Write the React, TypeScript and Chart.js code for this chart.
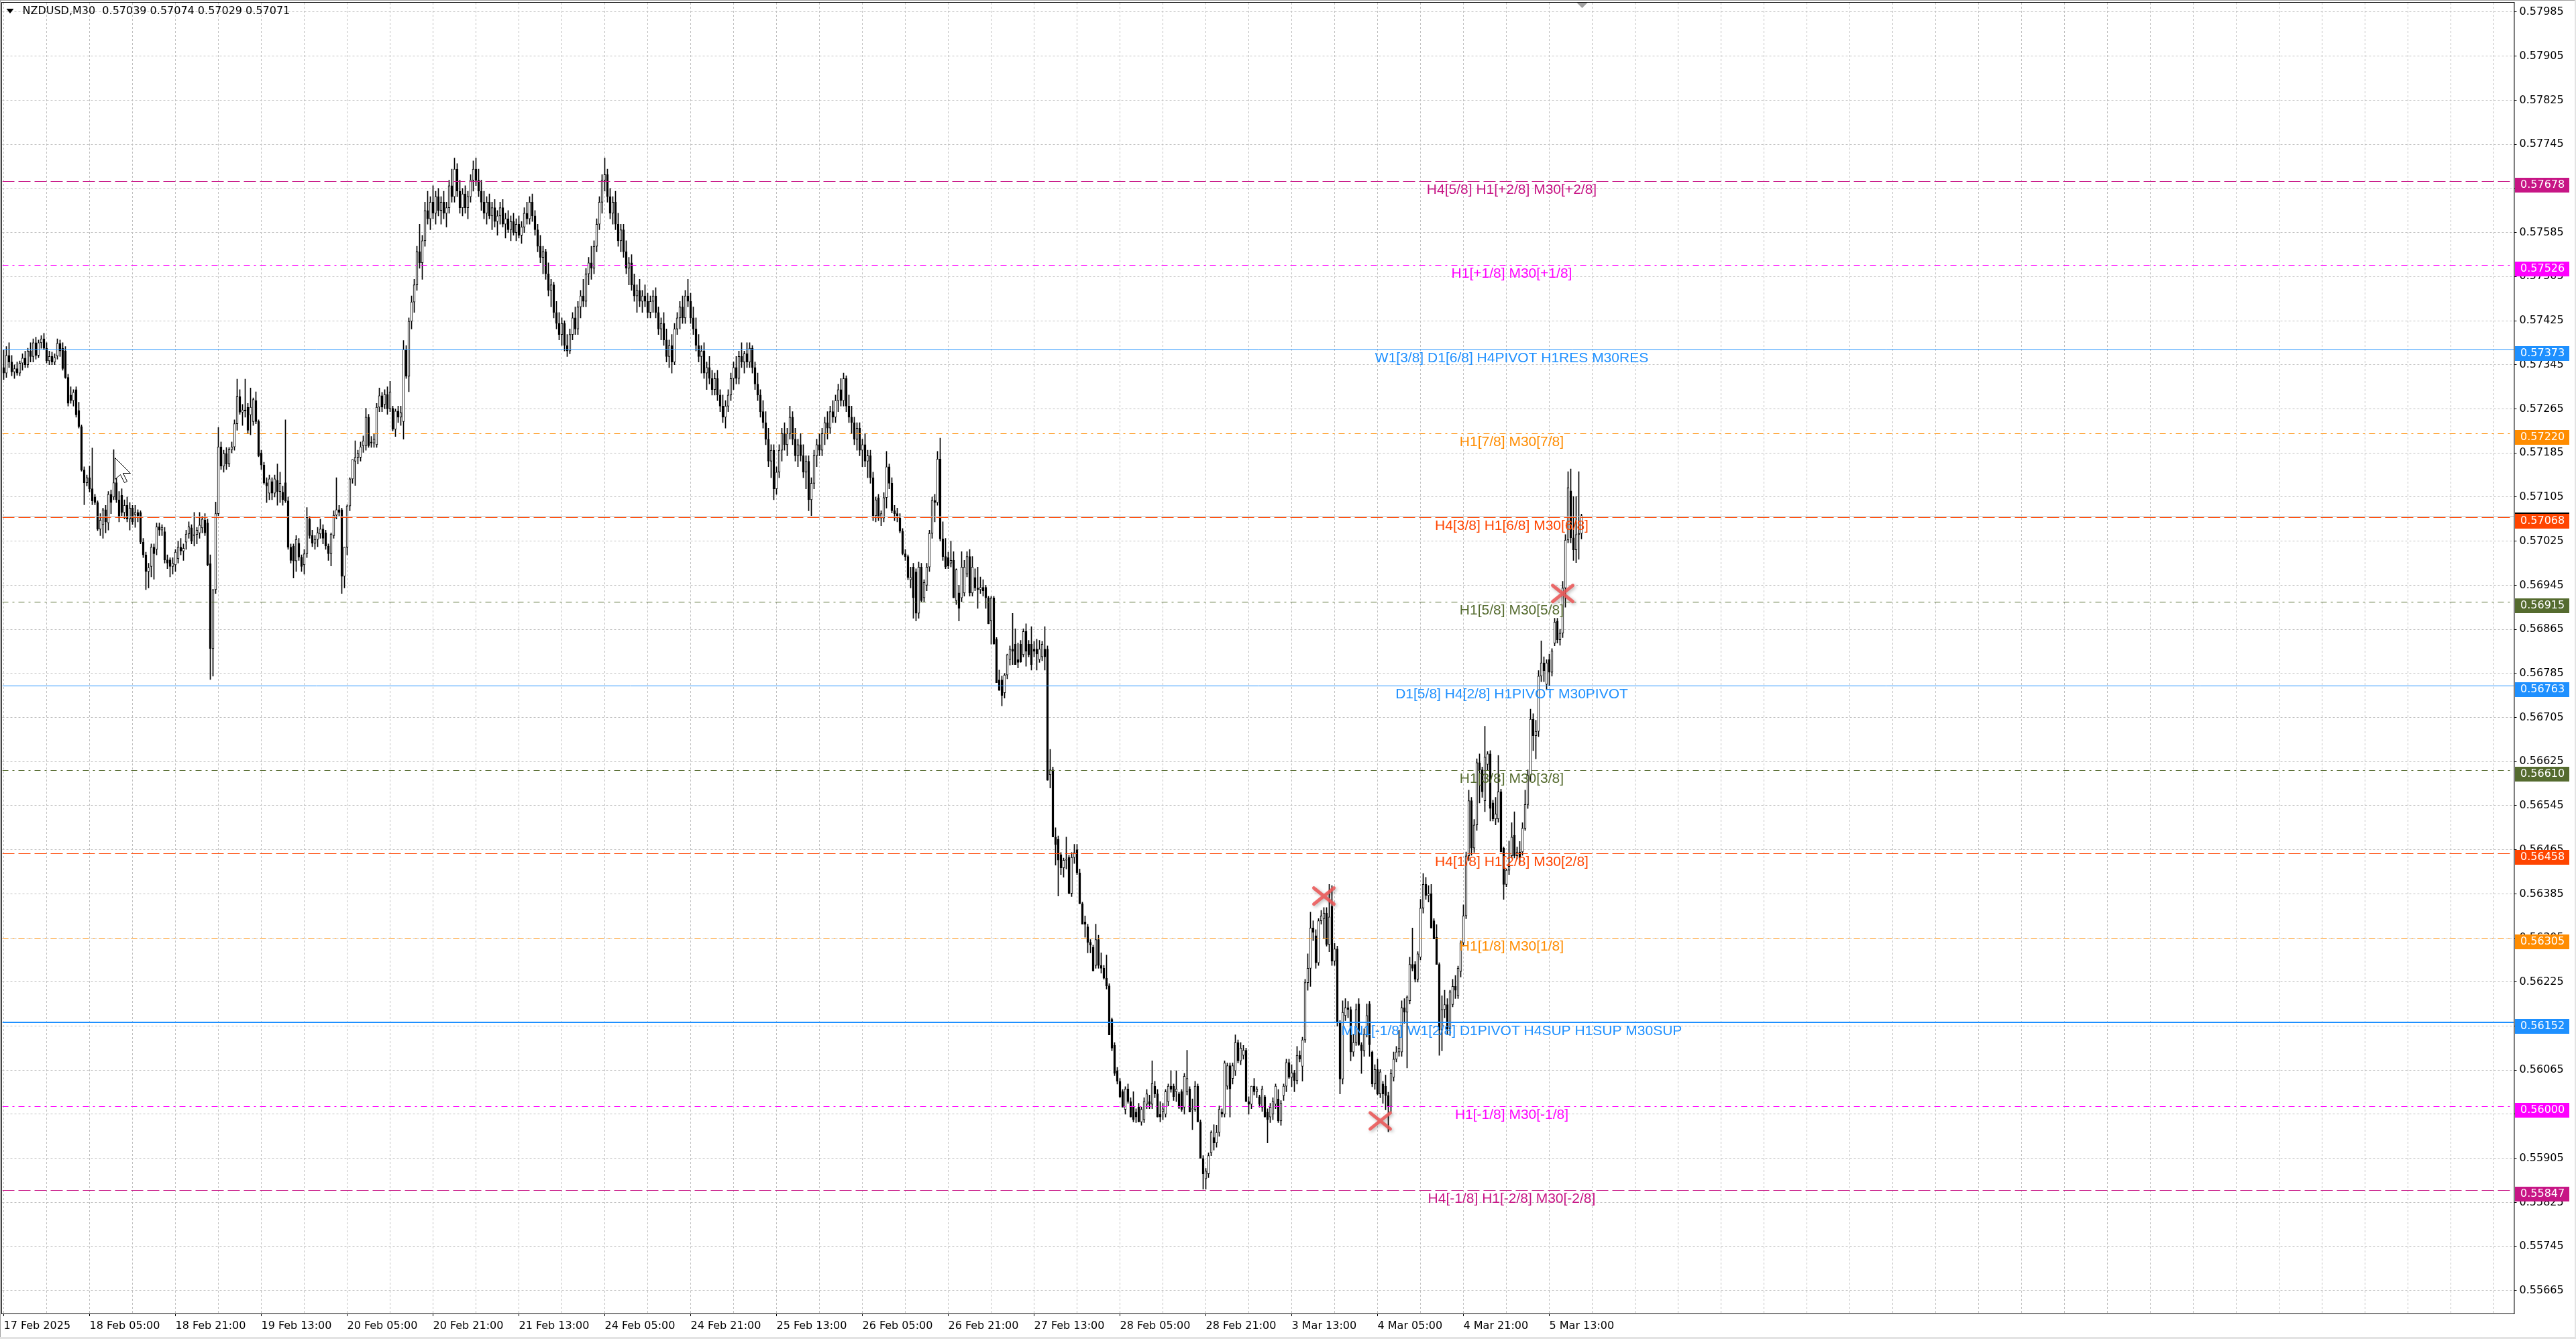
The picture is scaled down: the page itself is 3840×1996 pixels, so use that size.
import React, { useEffect, useRef } from 'react';
import { Chart, registerables } from 'chart.js';

Chart.register(...registerables);

// ---------- text ----------
const chartTitle = 'NZDUSD,M30  0.57039 0.57074 0.57029 0.57071';
const timeLabels = ['17 Feb 2025', '18 Feb 05:00', '18 Feb 21:00', '19 Feb 13:00', '20 Feb 05:00', '20 Feb 21:00', '21 Feb 13:00', '24 Feb 05:00', '24 Feb 21:00', '25 Feb 13:00', '26 Feb 05:00', '26 Feb 21:00', '27 Feb 13:00', '28 Feb 05:00', '28 Feb 21:00', '3 Mar 13:00', '4 Mar 05:00', '4 Mar 21:00', '5 Mar 13:00'];
const barsPerTimeLabel = 32;
const barsPerGridLine = 16;
const slotCount = 936;

const priceTicks = [0.55665, 0.55745, 0.55825, 0.55905, 0.55985, 0.56065, 0.56145, 0.56225, 0.56305, 0.56385, 0.56465, 0.56545, 0.56625, 0.56705, 0.56785, 0.56865, 0.56945, 0.57025, 0.57105, 0.57185, 0.57265, 0.57345, 0.57425, 0.57505, 0.57585, 0.57665, 0.57745, 0.57825, 0.57905, 0.57985];
const yMax = 0.5800204;
const yMin = 0.5562346;

// ---------- OHLC (price x 100000), M30 bars from 17 Feb 13:00 ----------
const opens = [
57340,57330,57362,57350,57332,57338,57330,57348,57357,57345,
57370,57360,57385,57362,57385,57392,57375,57352,57360,57350,
57361,57384,57375,57370,57322,57290,57280,57300,57262,57233,
57154,57131,57140,57120,57105,57095,57047,57055,57082,57058,
57110,57105,57131,57100,57108,57077,57090,57065,57085,57073,
57077,57077,57023,57000,56970,56979,57014,57010,57051,57045,
57042,56991,56991,56979,56982,56993,57014,57007,57023,57038,
57049,57035,57037,57040,57049,57063,57058,56984,56830,56937,
57075,57196,57161,57184,57165,57191,57196,57238,57287,57259,
57263,57268,57254,57242,57280,57242,57185,57163,57131,57112,
57133,57112,57135,57115,57114,57131,57098,57014,57016,56989,
57021,56996,56982,57002,57065,57035,57021,57028,57038,57047,
57040,57016,57002,57035,57072,57082,57082,56961,57014,57089,
57138,57170,57177,57177,57198,57198,57250,57205,57203,57200,
57268,57289,57273,57291,57265,57266,57228,57261,57250,57242,
57373,57324,57424,57459,57490,57550,57530,57570,57625,57610,
57640,57620,57650,57625,57640,57620,57630,57670,57650,57700,
57660,57630,57655,57630,57650,57680,57700,57680,57660,57640,
57620,57640,57615,57630,57605,57615,57630,57600,57610,57590,
57605,57585,57600,57580,57595,57620,57610,57640,57615,57590,
57560,57540,57550,57510,57480,57490,57440,57420,57400,57420,
57380,57370,57400,57430,57410,57450,57470,57460,57510,57530,
57520,57560,57600,57640,57680,57690,57650,57620,57640,57600,
57570,57590,57550,57520,57530,57490,57470,57480,57460,57470,
57460,57440,57460,57470,57440,57410,57420,57390,57360,57380,
57350,57410,57430,57450,57430,57470,57460,57430,57410,57380,
57360,57370,57330,57340,57320,57300,57320,57290,57270,57250,
57270,57290,57320,57340,57320,57360,57350,57365,57350,57375,
57340,57310,57290,57260,57240,57210,57170,57190,57120,57150,
57190,57220,57200,57220,57250,57210,57180,57200,57180,57150,
57170,57100,57130,57180,57200,57190,57220,57240,57230,57260,
57250,57280,57300,57280,57320,57270,57250,57240,57210,57230,
57190,57200,57170,57180,57140,57071,57104,57067,57067,57104,
57160,57130,57080,57075,57067,57043,57002,56997,56955,56978,
56969,56894,56978,56922,56945,56978,57039,57099,57095,57174,
57029,56997,56995,56985,56990,56917,56931,56922,56931,56965,
56997,56931,56959,56940,56937,56941,56941,56922,56880,56922,
56847,56773,56773,56750,56782,56810,56829,56838,56810,56838,
56819,56861,56838,56838,56829,56829,56810,56815,56829,56829,
56601,56610,56488,56484,56456,56432,56446,56451,56386,56451,
56465,56423,56367,56334,56325,56297,56288,56255,56302,56255,
56250,56232,56218,56157,56110,56064,56045,56026,55994,56031,
56008,55998,55989,55998,55971,55975,56003,56008,56003,56036,
56022,55985,55990,55985,56008,56036,56036,56026,56022,56026,
55998,56026,56031,55994,55994,56036,55971,55905,55868,55877,
55915,55943,55933,55952,55989,55985,56036,56073,56050,56064,
56115,56082,56092,56101,56008,56003,56036,56026,56017,55998,
56017,55989,55980,55985,56003,56013,55973,56019,56036,56079,
56052,56060,56046,56092,56072,56120,56224,56250,56323,56309,
56260,56336,56340,56350,56293,56362,56263,56285,56152,56049,
56164,56178,56175,56098,56115,56185,56111,56100,56130,56185,
56098,56040,56066,56022,56040,56036,56019,55999,56052,56085,
56098,56098,56178,56170,56191,56257,56257,56230,56270,56359,
56402,56382,56385,56336,56306,56257,56138,56175,56184,56140,
56184,56217,56200,56244,56296,56345,56454,56554,56468,56510,
56623,56610,56554,56620,56639,56550,56521,56521,56570,56468,
56402,56428,56454,56491,56454,56461,56461,56504,56547,56600,
56702,56672,56680,56780,56804,56765,56810,56787,56840,56880,
56846,56858,56940,57027,57116,57031,57009,57037,57039
];
const highs = [
57372,57378,57385,57362,57345,57350,57352,57365,57370,57375,
57385,57392,57395,57390,57398,57402,57385,57370,57368,57365,
57392,57390,57385,57378,57328,57305,57300,57305,57277,57236,
57160,57145,57161,57194,57110,57098,57075,57085,57090,57115,
57118,57191,57140,57115,57120,57100,57105,57095,57090,57090,
57082,57080,57030,57005,56985,57020,57020,57058,57058,57055,
57050,57000,56995,56995,57010,57025,57030,57020,57045,57060,
57055,57077,57050,57077,57070,57075,57065,57000,56937,57096,
57231,57205,57190,57195,57195,57205,57245,57319,57300,57273,
57319,57275,57303,57285,57296,57245,57190,57168,57140,57145,
57140,57145,57165,57150,57125,57245,57105,57020,57020,57035,
57030,57000,57010,57086,57070,57045,57035,57050,57065,57055,
57045,57020,57040,57080,57140,57090,57085,57014,57091,57140,
57173,57207,57190,57205,57216,57266,57255,57215,57220,57275,
57303,57295,57300,57305,57315,57270,57265,57270,57270,57389,
57380,57430,57470,57500,57560,57600,57580,57640,57660,57650,
57670,57660,57665,57650,57660,57640,57680,57700,57720,57710,
57680,57665,57670,57660,57690,57715,57720,57700,57680,57660,
57650,57655,57640,57645,57625,57640,57645,57620,57625,57615,
57620,57610,57615,57605,57630,57640,57650,57655,57625,57600,
57580,57560,57555,57530,57500,57495,57460,57440,57430,57425,
57400,57410,57440,57450,57460,57480,57500,57520,57540,57560,
57570,57610,57650,57690,57720,57700,57665,57650,57660,57620,
57600,57600,57570,57540,57545,57510,57490,57500,57480,57490,
57475,57470,57480,57485,57450,57430,57440,57410,57390,57400,
57420,57440,57460,57470,57480,57500,57475,57450,57430,57400,
57380,57385,57350,57360,57335,57330,57335,57300,57290,57280,
57300,57330,57350,57360,57370,57385,57370,57385,57385,57380,
57350,57330,57300,57280,57260,57230,57200,57200,57160,57200,
57230,57240,57230,57270,57260,57230,57210,57220,57200,57180,
57180,57140,57190,57210,57220,57230,57250,57260,57270,57280,
57290,57310,57320,57330,57325,57290,57270,57250,57240,57240,
57210,57220,57190,57190,57150,57105,57110,57080,57113,57188,
57165,57140,57090,57085,57075,57048,57010,57000,56978,56985,
56975,56987,56985,56955,56985,57045,57105,57110,57188,57212,
57060,57030,57005,57025,57006,56975,56945,57006,56990,57006,
57010,56997,56975,56978,56960,56955,56945,56925,56925,56925,
56850,56791,56780,56785,56820,56835,56894,56866,56840,56845,
56866,56875,56845,56870,56843,56847,56845,56843,56870,56835,
56647,56615,56505,56490,56460,56450,56488,56455,56460,56475,
56475,56430,56370,56345,56330,56302,56292,56330,56310,56278,
56255,56274,56222,56160,56115,56070,56050,56030,56035,56040,
56015,56026,55995,56005,55998,56015,56030,56020,56082,56045,
56030,56008,56005,56030,56040,56064,56040,56064,56025,56030,
56059,56101,56035,56013,56045,56040,55975,55910,55887,55915,
55955,55966,55965,56000,55995,56082,56078,56078,56078,56129,
56120,56115,56110,56105,56017,56036,56050,56035,56020,56036,
56020,55995,56005,56015,56040,56030,56010,56040,56085,56085,
56075,56065,56108,56100,56125,56230,56276,56352,56336,56320,
56340,56355,56360,56360,56402,56400,56295,56290,56155,56191,
56195,56190,56180,56130,56185,56195,56115,56140,56185,56190,
56100,56075,56085,56066,56045,56056,56025,56066,56098,56108,
56138,56191,56195,56200,56270,56323,56262,56280,56375,56422,
56415,56400,56402,56340,56329,56260,56200,56210,56195,56210,
56230,56237,56254,56300,56365,56461,56573,56560,56520,56630,
56639,56615,56689,56643,56645,56555,56560,56636,56575,56470,
56430,56481,56514,56534,56470,56480,56514,56573,56610,56720,
56712,56700,56790,56844,56815,56810,56820,56830,56885,56885,
56865,56952,57037,57151,57156,57106,57106,57151,57074
];
const lows = [
57318,57322,57340,57325,57320,57326,57325,57335,57340,57340,
57350,57350,57355,57358,57375,57372,57348,57345,57345,57345,
57355,57360,57335,57320,57270,57275,57270,57250,57230,57152,
57091,57125,57114,57091,57091,57044,57035,57030,57040,57045,
57075,57100,57095,57060,57070,57065,57060,57045,57055,57050,
57060,57020,56995,56937,56940,56960,56956,57000,57035,57035,
56985,56975,56960,56965,56970,56985,57000,56990,57010,57030,
57020,57016,57020,57030,57040,57035,56980,56774,56780,56930,
57070,57155,57150,57155,57160,57185,57190,57226,57255,57235,
57250,57220,57218,57235,57238,57178,57155,57128,57095,57100,
57100,57105,57090,57095,57090,57095,57010,56985,56958,56970,
56990,56970,56965,56995,57030,57015,57010,57015,57030,57020,
57010,56990,56980,57030,57065,57070,56930,56940,57000,57080,
57130,57126,57165,57170,57186,57190,57195,57195,57195,57195,
57260,57260,57265,57255,57260,57225,57215,57240,57235,57210,
57320,57296,57410,57440,57480,57520,57500,57560,57600,57590,
57610,57600,57615,57600,57610,57595,57620,57640,57640,57650,
57620,57615,57620,57610,57640,57660,57670,57650,57625,57610,
57600,57610,57590,57595,57580,57600,57595,57575,57585,57570,
57580,57570,57575,57565,57585,57600,57600,57605,57580,57550,
57530,57510,57500,57470,57450,57430,57410,57390,57380,57370,
57360,57365,57390,57400,57400,57430,57450,57450,57490,57500,
57510,57550,57590,57620,57660,57640,57610,57600,57590,57560,
57550,57540,57510,57490,57480,57460,57440,57450,57440,57450,
57430,57430,57440,57430,57400,57390,57380,57350,57340,57330,
57345,57400,57410,57420,57420,57450,57420,57400,57370,57350,
57330,57320,57300,57310,57290,57290,57280,57260,57240,57230,
57260,57280,57300,57310,57310,57340,57330,57340,57340,57330,
57300,57280,57250,57230,57200,57160,57140,57100,57110,57140,
57170,57190,57180,57210,57200,57170,57160,57170,57140,57120,
57080,57070,57120,57160,57180,57180,57200,57210,57220,57240,
57240,57260,57270,57270,57260,57240,57220,57200,57190,57180,
57160,57160,57140,57130,57062,57060,57062,57053,57060,57085,
57120,57076,57062,57060,57040,57000,56990,56955,56940,56885,
56880,56885,56915,56915,56935,56970,57030,57060,57090,57025,
56990,56975,56975,56978,56922,56910,56880,56915,56925,56960,
56925,56925,56935,56903,56930,56925,56903,56875,56838,56838,
56768,56754,56726,56740,56775,56800,56801,56801,56795,56805,
56815,56798,56815,56791,56815,56791,56805,56808,56791,56591,
56577,56488,56437,56381,56420,56415,56430,56385,56380,56440,
56420,56367,56330,56306,56278,56278,56245,56250,56250,56241,
56230,56212,56129,56100,56055,56040,56015,55998,55985,56005,
55980,55971,55970,55971,55965,55970,55995,55995,55995,56015,
55980,55971,55975,55980,56000,56025,56010,56008,55995,55990,
55985,56020,55989,55957,55990,55971,55905,55849,55849,55870,
55910,55920,55925,55945,55980,55980,56030,55980,56040,56055,
56078,56075,56085,56008,55985,55995,56020,56015,55998,55990,
55980,55933,55970,55975,55995,55970,55965,56010,56026,56050,
56035,56026,56040,56080,56045,56115,56210,56217,56300,56250,
56255,56330,56303,56290,56280,56255,56255,56145,56022,56040,
56155,56160,56082,56090,56110,56110,56059,56090,56125,56090,
56035,56030,56020,56015,56005,55993,55953,55990,56045,56080,
56090,56090,56150,56069,56185,56245,56225,56225,56265,56350,
56375,56370,56323,56303,56257,56092,56100,56160,56130,56128,
56180,56195,56195,56234,56290,56340,56445,56455,56460,56500,
56550,56560,56534,56610,56517,56517,56510,56515,56461,56375,
56398,56420,56450,56450,56448,56440,56455,56500,56540,56590,
56645,56630,56670,56770,56770,56755,56762,56780,56835,56840,
56836,56850,56905,57022,57022,56990,56986,56992,57029
];
const closes = [
57330,57362,57350,57332,57338,57330,57348,57357,57345,57370,
57360,57385,57362,57385,57392,57375,57352,57360,57350,57358,
57384,57370,57338,57322,57275,57280,57295,57254,57233,57154,
57131,57140,57120,57098,57095,57047,57063,57082,57060,57110,
57095,57131,57100,57068,57077,57090,57065,57085,57060,57077,
57070,57023,57000,56970,56977,57014,57002,57051,57045,57050,
56991,56985,56979,56985,57005,57014,57007,57012,57038,57051,
57025,57037,57045,57054,57065,57040,56982,56830,56937,57075,
57196,57161,57184,57165,57191,57196,57238,57287,57259,57263,
57261,57226,57268,57282,57242,57180,57163,57131,57125,57138,
57112,57138,57115,57130,57100,57098,57014,56990,56989,57028,
56996,56979,57002,57068,57035,57021,57028,57040,57047,57030,
57016,57002,57038,57072,57082,57077,56961,57014,57089,57138,
57173,57177,57184,57196,57207,57250,57198,57203,57210,57268,
57289,57268,57291,57265,57296,57228,57261,57250,57258,57373,
57324,57424,57459,57490,57550,57530,57570,57625,57610,57640,
57620,57650,57625,57640,57620,57630,57670,57650,57700,57660,
57630,57655,57630,57650,57680,57700,57680,57660,57640,57620,
57640,57615,57630,57605,57615,57630,57600,57610,57590,57605,
57585,57600,57580,57595,57620,57610,57640,57615,57590,57560,
57540,57550,57510,57480,57490,57440,57420,57400,57420,57380,
57370,57400,57430,57410,57450,57470,57460,57510,57530,57520,
57560,57600,57640,57680,57690,57650,57620,57640,57600,57570,
57590,57550,57520,57530,57490,57470,57480,57460,57470,57460,
57440,57460,57470,57440,57410,57420,57390,57360,57380,57350,
57410,57430,57450,57430,57470,57460,57430,57410,57380,57360,
57370,57330,57340,57320,57300,57320,57290,57270,57250,57270,
57290,57320,57340,57320,57360,57350,57365,57350,57375,57340,
57310,57290,57260,57240,57210,57170,57190,57120,57150,57190,
57220,57200,57220,57250,57210,57180,57200,57180,57150,57170,
57100,57130,57180,57200,57190,57220,57240,57230,57260,57250,
57280,57300,57280,57320,57270,57250,57240,57210,57230,57190,
57200,57170,57180,57140,57071,57100,57067,57075,57104,57160,
57130,57080,57075,57070,57043,57002,56997,56959,56959,56922,
56894,56978,56917,56950,56978,57039,57099,57095,57174,57029,
56997,56978,56980,56990,56922,56973,56903,56978,56978,56997,
56931,56978,56940,56937,56941,56935,56922,56875,56922,56838,
56768,56754,56745,56782,56819,56829,56825,56801,56805,56806,
56861,56825,56819,56801,56825,56820,56829,56838,56815,56591,
56610,56488,56474,56446,56432,56446,56446,56386,56451,56460,
56423,56367,56330,56330,56297,56292,56245,56302,56255,56250,
56232,56218,56129,56105,56059,56045,56017,55998,56031,56008,
55980,55975,55980,55971,55994,56008,56022,56003,56041,56022,
55980,55980,55995,56026,56036,56030,56017,56031,55998,55994,
56054,56050,55989,55994,56036,55971,55905,55877,55882,55910,
55952,55933,55952,55994,55985,56078,56073,56031,56073,56115,
56082,56105,56101,56008,56003,56036,56026,56031,56003,56031,
55980,55975,55998,56008,56036,55973,56005,56036,56079,56052,
56060,56046,56092,56085,56120,56224,56250,56323,56315,56260,
56336,56345,56350,56293,56343,56263,56285,56152,56049,56170,
56178,56175,56098,56115,56175,56111,56100,56130,56164,56111,
56040,56066,56022,56062,56022,56019,55999,56059,56085,56098,
56105,56178,56170,56198,56257,56250,56230,56276,56359,56402,
56382,56385,56323,56303,56257,56138,56175,56184,56140,56207,
56217,56210,56250,56296,56345,56454,56554,56468,56510,56623,
56610,56570,56633,56639,56540,56521,56530,56570,56461,56402,
56428,56435,56488,56454,56461,56450,56504,56547,56600,56702,
56672,56680,56780,56804,56790,56804,56787,56826,56878,56846,
56858,56940,57027,57122,57031,57009,57037,57039,57071
];

// ---------- Murrey / pivot levels ----------
const levelPrices = [0.57678, 0.57526, 0.57373, 0.57220, 0.57068, 0.56915, 0.56763, 0.56610, 0.56458, 0.56305, 0.56152, 0.56000, 0.55847];
const levelLabels = [
  'H4[5/8] H1[+2/8] M30[+2/8]',
  'H1[+1/8] M30[+1/8]',
  'W1[3/8] D1[6/8] H4PIVOT H1RES M30RES',
  'H1[7/8] M30[7/8]',
  'H4[3/8] H1[6/8] M30[6/8]',
  'H1[5/8] M30[5/8]',
  'D1[5/8] H4[2/8] H1PIVOT M30PIVOT',
  'H1[3/8] M30[3/8]',
  'H4[1/8] H1[2/8] M30[2/8]',
  'H1[1/8] M30[1/8]',
  'MN1[-1/8] W1[2/8] D1PIVOT H4SUP H1SUP M30SUP',
  'H1[-1/8] M30[-1/8]',
  'H4[-1/8] H1[-2/8] M30[-2/8]'
];
const bidPrice = 0.57071;

// signal crosses and mouse pointer
const signalBars = [492, 513, 581];
const signalPrices = [0.56381, 0.55973, 0.5693];
const pointerBar = 41.25;
const pointerPrice = 0.57177;

// ---------- styles ----------
const levelColors = ['#C71585', '#FF00FF', '#1E90FF', '#FF8C00', '#FF4500', '#556B2F', '#1E90FF', '#556B2F', '#FF4500', '#FF8C00', '#1E90FF', '#FF00FF', '#C71585'];
const levelStyles = ['dash', 'dashdot', 'solid', 'dashdot', 'dash', 'dashdot', 'solid', 'dashdot', 'dash', 'dashdot', 'thick', 'dashdot', 'dash'];
const levelLabelBar = 562;
const GRID = '#C0C0C0';
const AXIS_FONT = 'DejaVu Sans';
const X_AXIS_HEIGHT = 38;
const Y_AXIS_WIDTH = 92.5;

function dashFor(style: string): number[] {
  if (style === 'dash') return [18, 6];
  if (style === 'dashdot') return [9, 6, 3, 6];
  return [];
}

const overlay = {
  id: 'mt4overlay',
  beforeDraw(chart: any) {
    const { ctx, width, height } = chart;
    ctx.save();
    ctx.fillStyle = '#ffffff';
    ctx.fillRect(0, 0, width, height);
    ctx.restore();
  },
  afterDatasetsDraw(chart: any) {
    const { ctx, chartArea: a, scales } = chart;
    const x = scales.x;
    const y = scales.y;
    ctx.save();
    ctx.beginPath();
    ctx.rect(a.left, a.top, a.right - a.left, a.bottom - a.top);
    ctx.clip();

    // bid line
    const by = Math.round(y.getPixelForValue(bidPrice)) + 0.5;
    ctx.strokeStyle = '#C0C0C0';
    ctx.lineWidth = 1;
    ctx.setLineDash([]);
    ctx.beginPath();
    ctx.moveTo(a.left, by);
    ctx.lineTo(a.right, by);
    ctx.stroke();

    // level lines
    levelPrices.forEach((p, i) => {
      const st = levelStyles[i];
      const w = st === 'thick' ? 2 : 1;
      const raw = Math.round(y.getPixelForValue(p));
      const py = w === 2 ? raw : raw + 0.5;
      ctx.lineWidth = w;
      ctx.strokeStyle = levelColors[i];
      ctx.setLineDash(dashFor(st));
      ctx.beginPath();
      ctx.moveTo(a.left, py);
      ctx.lineTo(a.right, py);
      ctx.stroke();
    });

    // level labels
    ctx.setLineDash([]);
    ctx.font = '21px "Liberation Sans", Arial, sans-serif';
    ctx.textAlign = 'center';
    ctx.textBaseline = 'alphabetic';
    const lx = x.getPixelForValue(levelLabelBar);
    levelPrices.forEach((p, i) => {
      ctx.fillStyle = levelColors[i];
      ctx.fillText(levelLabels[i], lx, Math.round(y.getPixelForValue(p)) + 19);
    });

    // signal crosses
    ctx.lineWidth = 5;
    ctx.lineCap = 'round';
    ctx.strokeStyle = 'rgba(236, 88, 88, 0.88)';
    ctx.shadowColor = 'rgba(0,0,0,0.30)';
    ctx.shadowBlur = 5;
    ctx.shadowOffsetX = 2;
    ctx.shadowOffsetY = 2;
    signalBars.forEach((b, i) => {
      const cx = x.getPixelForValue(b);
      const cy = y.getPixelForValue(signalPrices[i]);
      ctx.beginPath();
      ctx.moveTo(cx - 15, cy + 12);
      ctx.lineTo(cx + 15, cy - 12);
      ctx.moveTo(cx - 15, cy - 12);
      ctx.lineTo(cx + 15, cy + 12);
      ctx.stroke();
    });
    ctx.shadowColor = 'transparent';
    ctx.shadowBlur = 0;
    ctx.shadowOffsetX = 0;
    ctx.shadowOffsetY = 0;

    // mouse pointer
    const px = Math.round(x.getPixelForValue(pointerBar)) + 0.5;
    const py = Math.round(y.getPixelForValue(pointerPrice)) + 0.5;
    const pts = [[0, 0], [0, 32], [8, 25], [14, 37], [18, 35], [12, 23], [23, 23]];
    ctx.beginPath();
    pts.forEach(([dx, dy], k) => (k === 0 ? ctx.moveTo(px + dx, py + dy) : ctx.lineTo(px + dx, py + dy)));
    ctx.closePath();
    ctx.fillStyle = '#ffffff';
    ctx.fill();
    ctx.lineWidth = 1;
    ctx.lineCap = 'butt';
    ctx.strokeStyle = '#000000';
    ctx.stroke();
    ctx.restore();
  },
  afterDraw(chart: any) {
    const { ctx, chartArea: a, scales, width, height } = chart;
    const x = scales.x;
    const y = scales.y;
    ctx.save();
    // plot frame
    ctx.strokeStyle = '#000000';
    ctx.lineWidth = 1;
    ctx.setLineDash([]);
    ctx.strokeRect(Math.floor(a.left) - 0.5, Math.floor(a.top) - 0.5, Math.round(a.right) - Math.floor(a.left) + 0.5, Math.round(a.bottom) - Math.floor(a.top) + 1);

    // chart shift marker
    const sx = Math.round(x.getPixelForValue(opens.length - 1)) + 0.5;
    ctx.fillStyle = '#A0A0A0';
    ctx.beginPath();
    ctx.moveTo(sx - 8, a.top);
    ctx.lineTo(sx + 8, a.top);
    ctx.lineTo(sx, a.top + 8);
    ctx.closePath();
    ctx.fill();

    // price tags on the axis
    ctx.font = '16px "' + AXIS_FONT + '"';
    ctx.textAlign = 'left';
    ctx.textBaseline = 'middle';
    const tagX = Math.round(a.right) + 1;
    const drawTag = (price: number, color: string) => {
      const ly = Math.round(y.getPixelForValue(price));
      ctx.fillStyle = color;
      ctx.fillRect(tagX, ly - 5, 81, 22);
      ctx.fillStyle = '#ffffff';
      ctx.fillText(price.toFixed(5), tagX + 8, ly + 6);
    };
    drawTag(bidPrice, '#000000');
    levelPrices.forEach((p, i) => drawTag(p, levelColors[i]));

    // title
    ctx.fillStyle = '#000000';
    ctx.beginPath();
    ctx.moveTo(a.left + 6, 13);
    ctx.lineTo(a.left + 17, 13);
    ctx.lineTo(a.left + 11.5, 20);
    ctx.closePath();
    ctx.fill();
    ctx.font = '16px "' + AXIS_FONT + '"';
    ctx.textBaseline = 'middle';
    ctx.fillText(chartTitle, a.left + 30, 17);

    // window frame
    ctx.fillStyle = '#A0A0A0';
    ctx.fillRect(0, 0, width, 1);
    ctx.fillRect(0, 0, 1, height);
    ctx.fillStyle = '#E3E3E3';
    ctx.fillRect(0, height - 3, width, 3);
    ctx.fillRect(width - 2, 0, 2, height);
    ctx.restore();
  }
};

export default function App() {
  const ref = useRef<HTMLCanvasElement | null>(null);
  useEffect(() => {
    document.body.style.margin = '0';
    const canvas = ref.current;
    if (!canvas) return;
    const labels = Array.from({ length: slotCount }, (_, i) => String(i));
    const wickData = highs.map((h, i) => [lows[i] / 100000, h / 100000]);
    const bodyData = opens.map((o, i) => [o / 100000, closes[i] / 100000]);
    const bodyFill = opens.map((o, i) => (closes[i] >= o ? '#ffffff' : '#000000'));

    const chart = new Chart(canvas, {
      type: 'bar',
      data: {
        labels,
        datasets: [
          {
            data: wickData as any,
            backgroundColor: '#000000',
            borderWidth: 0,
            barThickness: 1,
            grouped: false,
            order: 2
          } as any,
          {
            data: bodyData as any,
            backgroundColor: bodyFill,
            borderColor: '#000000',
            borderWidth: 1,
            borderSkipped: false,
            barThickness: 3,
            minBarLength: 1,
            grouped: false,
            order: 1
          } as any
        ]
      },
      options: {
        animation: false,
        responsive: false,
        devicePixelRatio: 1,
        events: [],
        layout: { padding: { left: 3.5, top: 4, right: 0, bottom: 0 } },
        plugins: { legend: { display: false }, tooltip: { enabled: false }, title: { display: false } },
        scales: {
          x: {
            type: 'category',
            offset: true,
            grid: {
              offset: false,
              lineWidth: 1,
              color: (c: any) => (c.index % barsPerGridLine === 0 ? GRID : 'rgba(0,0,0,0)'),
              drawTicks: true,
              tickLength: 4,
              tickWidth: 1,
              tickColor: (c: any) => (c.index % barsPerTimeLabel === 0 && c.index / barsPerTimeLabel < timeLabels.length ? '#000000' : 'rgba(0,0,0,0)')
            },
            border: { display: false, dash: [3, 3] },
            ticks: {
              autoSkip: false,
              maxRotation: 0,
              minRotation: 0,
              align: 'start',
              padding: 5,
              color: '#000000',
              font: { family: AXIS_FONT, size: 16 },
              callback: (_v: any, i: number) => (i % barsPerTimeLabel === 0 && i / barsPerTimeLabel < timeLabels.length ? timeLabels[i / barsPerTimeLabel] : '')
            },
            afterFit: (s: any) => { s.height = X_AXIS_HEIGHT; s.paddingLeft = 0; s.paddingRight = 0; }
          },
          y: {
            type: 'linear',
            position: 'right',
            min: yMin,
            max: yMax,
            grid: { color: GRID, lineWidth: 1, drawTicks: true, tickLength: 4, tickColor: '#000000', tickWidth: 1 },
            border: { display: false, dash: [3, 3] },
            afterBuildTicks: (s: any) => { s.ticks = priceTicks.map((v) => ({ value: v })); },
            ticks: {
              autoSkip: false,
              padding: 4,
              color: '#000000',
              font: { family: AXIS_FONT, size: 16 },
              callback: (v: any) => Number(v).toFixed(5)
            },
            afterFit: (s: any) => { s.width = Y_AXIS_WIDTH; s.paddingTop = 0; s.paddingBottom = 0; }
          }
        }
      } as any,
      plugins: [overlay]
    });
    return () => chart.destroy();
  }, []);

  return (
    <div style={{ position: 'absolute', left: 0, top: 0, width: 3840, height: 1996, background: '#fff' }}>
      <canvas ref={ref} width={3840} height={1996} style={{ display: 'block', width: 3840, height: 1996 }} />
    </div>
  );
}
